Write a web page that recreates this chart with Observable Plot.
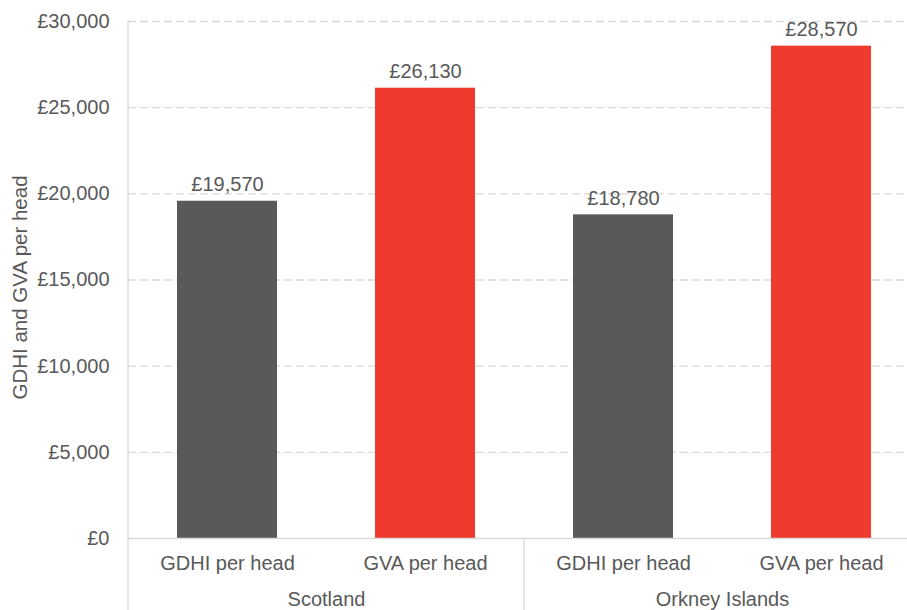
<!DOCTYPE html>
<html><head><meta charset="utf-8">
<script src="https://cdn.jsdelivr.net/npm/d3@7"></script>
<script src="https://cdn.jsdelivr.net/npm/@observablehq/plot@0.6"></script>
<style>html,body{margin:0;padding:0;background:#fff;overflow:hidden}</style>
</head><body><div id="chart"></div>
<script>
const groups = ["Scotland", "Orkney Islands"];
const measures = ["GDHI per head", "GVA per head"];
const scotlandValues = [19570, 26130];
const orkneyValues = [18780, 28570];
const yTicks = [0, 5000, 10000, 15000, 20000, 25000, 30000];
const yLabel = "GDHI and GVA per head";
const barColors = ["#595959", "#EE3B2D"];

const data = [];
[scotlandValues, orkneyValues].forEach((vals, gi) =>
  vals.forEach((v, mi) => data.push({group: groups[gi], measure: measures[mi], value: v})));
const fmt = d => "£" + d3.format(",")(d);
const textColor = "#595959";
const lineColor = "#d9d9d9";

const chart = Plot.plot({
  width: 907, height: 610,
  marginTop: 21, marginBottom: 72, marginLeft: 128, marginRight: -13,
  style: {fontFamily: "'Liberation Sans', Arial, sans-serif", fontSize: "20px", color: textColor, background: "#fff"},
  facet: {data, x: "group", label: null},
  fx: {domain: groups, padding: 0, axis: "bottom", tickSize: 0, tickPadding: 53, label: null},
  x: {domain: measures, paddingInner: 0.495, paddingOuter: 0.2475, tickSize: 0, tickPadding: 17, label: null},
  y: {domain: [0, 30000], ticks: yTicks, tickFormat: fmt, tickSize: 0, tickPadding: 19, label: null},
  color: {domain: measures, range: barColors},
  marks: [
    Plot.ruleY(yTicks.filter(d => d > 0), {stroke: lineColor, strokeWidth: 1.3, strokeDasharray: "8,4"}),
    Plot.barY(data, {x: "measure", y: "value", fill: "measure"}),
    Plot.text(data, {x: "measure", y: "value", text: d => fmt(d.value), dy: -10, lineAnchor: "bottom", fill: textColor}),
    Plot.ruleY([0], {stroke: lineColor, strokeWidth: 1.3})
  ]
});
document.getElementById("chart").appendChild(chart);

// separators and axis title, positioned through the chart's own scales
const svg = d3.select(chart);
const fx = chart.scale("fx"), y = chart.scale("y");
const y0 = y.apply(0), yTop = y.apply(30000);
const bounds = groups.map(g => fx.apply(g));
bounds.push(fx.apply(groups[groups.length - 1]) + fx.bandwidth);
bounds.forEach((bx, i) => {
  svg.append("line")
    .attr("x1", bx).attr("x2", bx)
    .attr("y1", i === 0 ? yTop : y0).attr("y2", 610)
    .attr("stroke", lineColor).attr("stroke-width", 1.3);
});
svg.append("text")
  .attr("transform", `translate(20,${(y0 + yTop) / 2 + 8}) rotate(-90)`)
  .attr("text-anchor", "middle")
  .attr("dy", "0.35em")
  .attr("fill", textColor)
  .attr("font-size", "20.5px")
  .text(yLabel);
</script>
</body></html>
